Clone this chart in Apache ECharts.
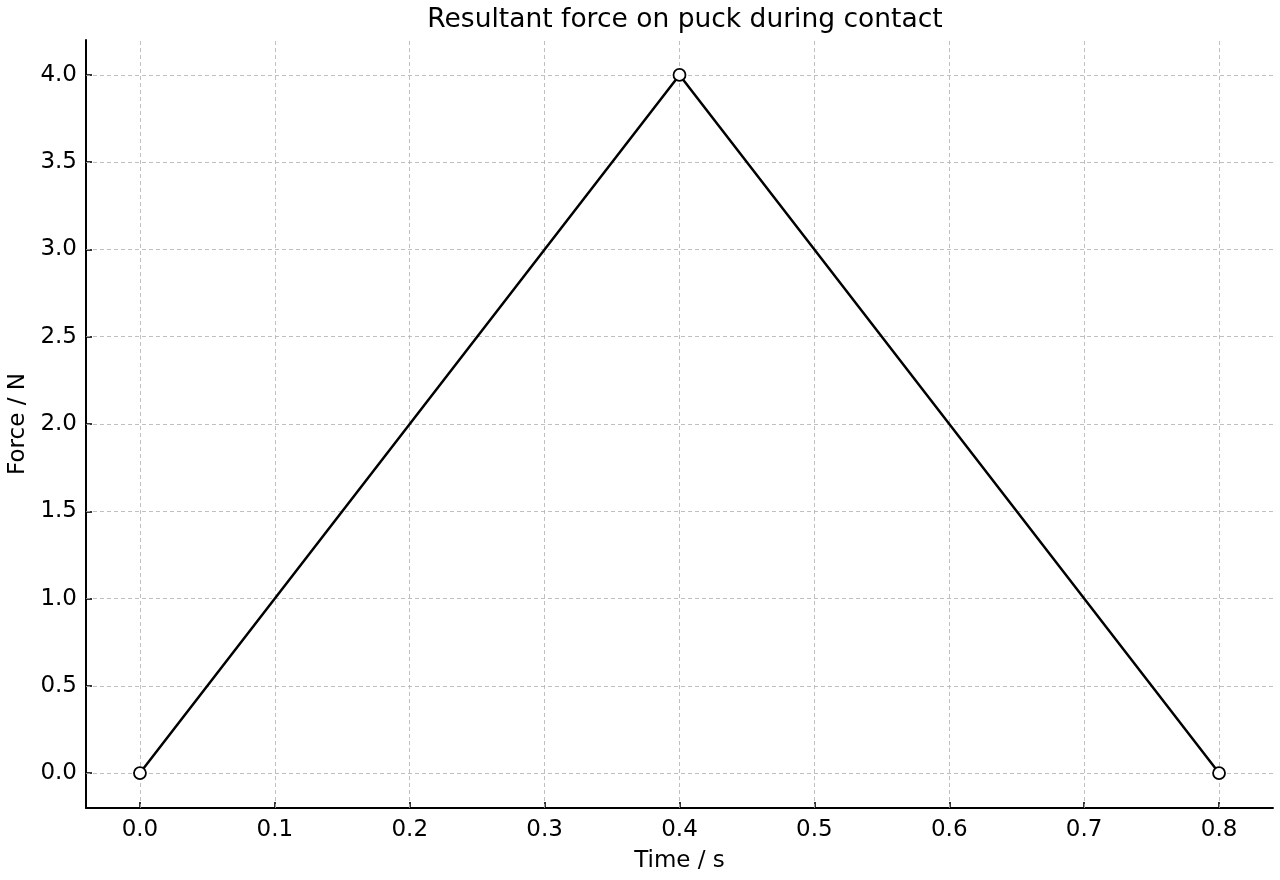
<!DOCTYPE html>
<html>
<head>
<meta charset="utf-8">
<script src="https://cdn.jsdelivr.net/npm/echarts@6/dist/echarts.min.js"></script>
<style>
  html, body { margin: 0; padding: 0; background: #fff; }
  #chart { width: 1280px; height: 880px; }
</style>
</head>
<body>
<div id="chart"></div>
<script>
// data
const times = [0.0, 0.4, 0.8];
const forces = [0.0, 4.0, 0.0];
const xTicks = [0.0, 0.1, 0.2, 0.3, 0.4, 0.5, 0.6, 0.7, 0.8];
const yTicks = [0.0, 0.5, 1.0, 1.5, 2.0, 2.5, 3.0, 3.5, 4.0];

const FONT = '"DejaVu Sans", sans-serif';
const GRID_LINE = { color: '#b0b0b0', type: [4, 3], width: 0.8 };

const chart = echarts.init(document.getElementById('chart'));
chart.setOption({
    animation: false,
    backgroundColor: '#fff',
    title: {
        text: 'Resultant force on puck during contact',
        left: 680, top: 2, textAlign: 'center',
        textStyle: { fontFamily: FONT, fontSize: 26.5, fontWeight: 'normal', color: '#000' }
    },
    grid: { left: 86, right: 7, top: 40, bottom: 72, containLabel: false, outerBoundsMode: 'none' },
    xAxis: {
        type: 'value', min: -0.04, max: 0.84,
        name: 'Time / s', nameLocation: 'middle', nameGap: 42,
        nameTextStyle: { fontFamily: FONT, fontSize: 23, color: '#000' },
        axisLine: { onZero: false, lineStyle: { color: '#000', width: 2 } },
        axisTick: { show: true, inside: true, length: 6, customValues: xTicks, lineStyle: { color: '#000', width: 1.6 } },
        axisLabel: { customValues: xTicks, margin: 11, fontFamily: FONT, fontSize: 23, color: '#000', formatter: v => v.toFixed(1) },
        splitLine: { show: false }
    },
    yAxis: {
        type: 'value', min: -0.2, max: 4.2,
        name: 'Force / N', nameLocation: 'middle', nameGap: 56, nameRotate: 90,
        nameTextStyle: { fontFamily: FONT, fontSize: 23, color: '#000' },
        axisLine: { show: true, onZero: false, lineStyle: { color: '#000', width: 2 } },
        axisTick: { show: true, inside: true, length: 6, customValues: yTicks, lineStyle: { color: '#000', width: 1.6 } },
        axisLabel: { customValues: yTicks, margin: 9, fontFamily: FONT, fontSize: 23, color: '#000', formatter: v => v.toFixed(1) },
        splitLine: { show: false }
    },
    series: [{
        type: 'line', data: times.map((t, i) => [t, forces[i]]),
        symbol: 'circle', symbolSize: 12,
        itemStyle: { color: '#fff', borderColor: '#000', borderWidth: 1.8 },
        lineStyle: { color: '#000', width: 2.5 },
        z: 5,
        markLine: {
            silent: true, symbol: 'none', label: { show: false }, z: 1,
            lineStyle: GRID_LINE,
            data: xTicks.map(v => ({ xAxis: v })).concat(yTicks.map(v => ({ yAxis: v })))
        }
    }]
});
</script>
</body>
</html>
